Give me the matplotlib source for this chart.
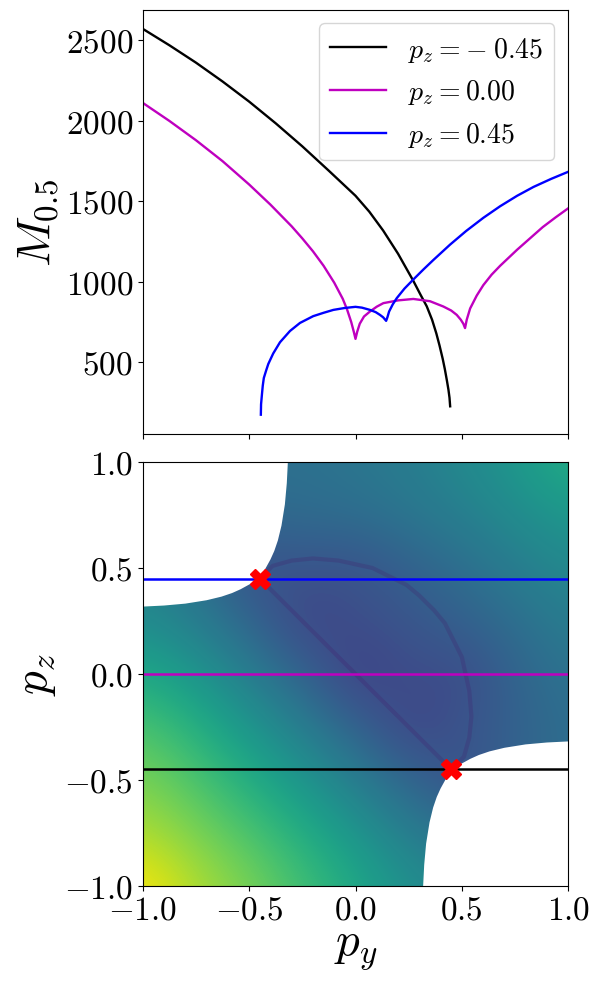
import numpy as np
import matplotlib
matplotlib.use("Agg")
import matplotlib.pyplot as plt

plt.rcParams["font.family"] = "serif"
plt.rcParams["font.serif"] = ["cmr10"]
plt.rcParams["mathtext.fontset"] = "cm"
plt.rcParams["axes.formatter.use_mathtext"] = True

# slices at fixed p_z (top panel)
pz_vals = [-0.45, 0.00, 0.45]
colors = ["k", "m", "b"]

py_k = [-1.0, -0.875, -0.75, -0.625, -0.5, -0.375, -0.25, -0.125, 0.0, 0.065, 0.13, 0.2,
        0.272, 0.305, 0.335, 0.36, 0.38, 0.395, 0.41, 0.42, 0.43, 0.437, 0.442, 0.445]
m_k = [2572, 2470, 2362, 2245, 2120, 1985, 1842, 1690, 1535, 1436, 1319, 1175,
       1006, 922, 848, 765, 680, 605, 522, 458, 385, 330, 280, 227]

py_m = [-1.0, -0.875, -0.75, -0.625, -0.5, -0.4, -0.3, -0.25, -0.2, -0.15, -0.1, -0.06, -0.04,
        -0.02, -0.008, 0.0, 0.008, 0.02, 0.04, 0.068, 0.1, 0.131, 0.2, 0.272, 0.35, 0.413, 0.45,
        0.476, 0.495, 0.507, 0.515, 0.523, 0.539, 0.57, 0.601, 0.64, 0.68, 0.72, 0.76, 0.82,
        0.88, 0.94, 1.0]
m_m = [2112, 2000, 1880, 1750, 1605, 1480, 1345, 1270, 1190, 1100, 995, 895, 830,
       750, 690, 646, 690, 740, 785, 816, 846, 868, 885, 894, 880, 847, 822,
       795, 765, 740, 713, 765, 835, 915, 980, 1045, 1100, 1150, 1200, 1270,
       1340, 1400, 1457]

py_b = [-0.445, -0.444, -0.44, -0.436, -0.431, -0.42, -0.41, -0.387, -0.355, -0.308, -0.261,
        -0.199, -0.15, -0.104, -0.05, 0.0, 0.03, 0.068, 0.095, 0.115, 0.13, 0.144, 0.15, 0.158,
        0.175, 0.194, 0.23, 0.272, 0.32, 0.366, 0.445, 0.52, 0.601, 0.68, 0.76, 0.837, 0.92, 1.0]
m_b = [175, 240, 299, 355, 403, 450, 490, 555, 625, 695, 745,
       787, 808, 826, 838, 845, 840, 826, 812, 795, 780, 758, 780, 816,
       860, 899, 958, 1015, 1078, 1136, 1232, 1316, 1398, 1470, 1535, 1590, 1640, 1684]

# heatmap (colour level 0..1), rows p_z = -1..1, cols p_y = -1..1
grid_p = [-1.0, -0.75, -0.5, -0.25, 0.0, 0.25, 0.5, 0.75, 1.0]
field = [
    [1.00, 0.88, 0.80, 0.70, 0.60, 0.50, 0.45, 0.44, 0.44],
    [0.88, 0.80, 0.72, 0.62, 0.52, 0.42, 0.37, 0.38, 0.40],
    [0.80, 0.72, 0.62, 0.52, 0.42, 0.33, 0.24, 0.32, 0.36],
    [0.72, 0.63, 0.52, 0.42, 0.32, 0.20, 0.26, 0.31, 0.36],
    [0.60, 0.52, 0.42, 0.32, 0.18, 0.24, 0.22, 0.32, 0.38],
    [0.48, 0.42, 0.33, 0.20, 0.24, 0.26, 0.31, 0.36, 0.42],
    [0.44, 0.37, 0.24, 0.26, 0.25, 0.31, 0.36, 0.42, 0.47],
    [0.44, 0.38, 0.34, 0.35, 0.36, 0.39, 0.43, 0.48, 0.53],
    [0.44, 0.40, 0.37, 0.37, 0.39, 0.42, 0.47, 0.53, 0.62],
]

# edge of the excluded (white) region, upper left
edge_py = [-1.0, -0.9, -0.8, -0.7, -0.63, -0.58, -0.54, -0.50, -0.475, -0.453,
           -0.437, -0.422, -0.40, -0.382, -0.365, -0.348, -0.332, -0.323, -0.318]
edge_pz = [0.318, 0.323, 0.332, 0.348, 0.365, 0.382, 0.40, 0.422, 0.437, 0.453,
           0.475, 0.50, 0.54, 0.58, 0.63, 0.7, 0.8, 0.9, 1.0]

# dark valleys in the map
diag_py = [-0.45, 0.45]
diag_pz = [0.45, -0.45]
arc_py = [-0.45, -0.39, -0.30, -0.2, -0.08, 0.08, 0.24, 0.30, 0.37, 0.42, 0.50, 0.535, 0.545, 0.535, 0.51, 0.45]
arc_pz = [0.45, 0.51, 0.535, 0.545, 0.535, 0.50, 0.42, 0.37, 0.30, 0.24, 0.08, -0.08, -0.2, -0.30, -0.39, -0.45]

cross_py = [-0.45, 0.45]
cross_pz = [0.45, -0.45]


def pz_label(v):
    if v < 0:
        return r"$p_z = -\;%.2f$" % abs(v)
    return r"$p_z = %.2f$" % v


fig = plt.figure(figsize=(6, 9.87), dpi=100)
ax1 = fig.add_axes([0.238, 0.5593, 0.709, 0.43])
ax2 = fig.add_axes([0.238, 0.1013, 0.709, 0.4296], sharex=ax1)

for py, m, c, pz in zip([py_k, py_m, py_b], [m_k, m_m, m_b], colors, pz_vals):
    ax1.plot(py, m, color=c, lw=1.7, label=pz_label(pz))
ax1.legend(loc="upper right", fontsize=20)
ax1.set_ylabel(r"$M_{0.5}$", fontsize=34)
ax1.tick_params(labelsize=24, labelbottom=False)
ax1.set_yticks([500, 1000, 1500, 2000, 2500])

step = grid_p[1] - grid_p[0]
ax2.imshow(np.array(field), origin="lower", cmap="viridis", vmin=0, vmax=1,
           interpolation="bicubic", aspect="auto",
           extent=[grid_p[0] - step / 2, grid_p[-1] + step / 2,
                   grid_p[0] - step / 2, grid_p[-1] + step / 2], zorder=0)
ax2.plot(diag_py, diag_pz, color="#471063", lw=3, alpha=0.2, zorder=1)
ax2.plot(arc_py, arc_pz, color="#471063", lw=3, alpha=0.2, zorder=1)
ax2.fill(edge_py + [-1.0], edge_pz + [1.0], color="white", lw=0, zorder=1.5)
ax2.fill(edge_pz + [1.0], edge_py + [-1.0], color="white", lw=0, zorder=1.5)
for pz, c in zip(pz_vals, colors):
    ax2.axhline(pz, color=c, lw=1.8, zorder=2)
ax2.plot(cross_py, cross_pz, "X", color="red", ms=15, zorder=3)

ax2.set_xlim(-1, 1)
ax2.set_ylim(-1, 1)
ax2.set_xticks([-1.0, -0.5, 0.0, 0.5, 1.0])
ax2.set_yticks([-1.0, -0.5, 0.0, 0.5, 1.0])
ax2.tick_params(labelsize=24)
ax2.set_xlabel(r"$p_y$", fontsize=34)
ax2.set_ylabel(r"$p_z$", fontsize=34)

fig.savefig("out.png", dpi=100)
